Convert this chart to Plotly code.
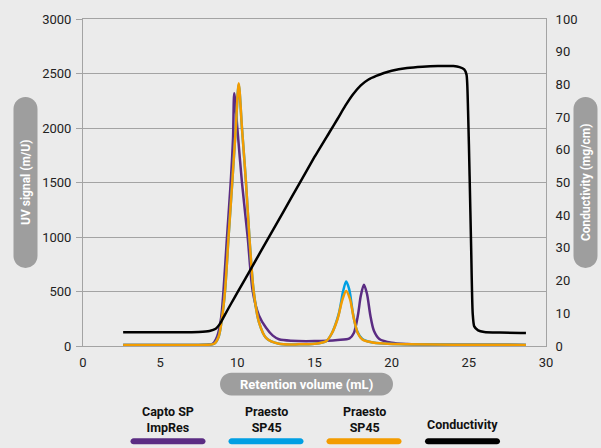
import plotly.graph_objects as go

# ---------------- data ----------------
capto_x = [2.6, 5, 8.0, 8.4, 8.7, 8.95, 9.1, 9.33, 9.57, 9.72, 9.8, 10.0, 10.3, 10.67, 11.0, 11.4, 11.86, 12.3, 12.7, 13.5, 15, 16.5, 17.27, 17.55, 17.81, 18.0, 18.2, 18.4, 18.62, 18.85, 19.2, 20, 21, 23, 28.7]
capto_y = [10, 10, 12, 20, 90, 260, 500, 1000, 1500, 1900, 2318, 2000, 1500, 1000, 500, 280, 167, 95, 62, 48, 45, 55, 70, 120, 280, 460, 562, 480, 280, 140, 65, 30, 18, 12, 10]

blue_x = [2.6, 5, 8.0, 8.5, 8.8, 9.0, 9.2, 9.43, 9.67, 9.9, 10.09, 10.3, 10.56, 10.78, 11.06, 11.4, 11.86, 12.7, 14, 15.0, 15.76, 16.1, 16.58, 16.85, 17.05, 17.25, 17.49, 17.75, 18.1, 18.68, 19.5, 21, 24, 28.7]
blue_y = [10, 10, 12, 20, 90, 250, 500, 1000, 1500, 2000, 2400, 2000, 1500, 1000, 500, 220, 75, 20, 15, 20, 45, 110, 300, 500, 592, 520, 300, 140, 65, 35, 22, 15, 12, 10]

orange_x = [2.6, 5, 8.0, 8.5, 8.8, 9.0, 9.2, 9.43, 9.67, 9.9, 10.09, 10.3, 10.56, 10.78, 11.06, 11.4, 11.86, 12.7, 14, 15.0, 15.76, 16.1, 16.5, 16.8, 17.05, 17.3, 17.55, 17.8, 18.1, 18.68, 19.5, 21, 24, 28.7]
orange_y = [10, 10, 12, 20, 90, 250, 500, 1000, 1500, 2000, 2410, 2000, 1500, 1000, 500, 220, 75, 20, 15, 20, 45, 110, 250, 420, 505, 430, 250, 120, 60, 35, 22, 15, 12, 10]

cond_x = [2.6, 4, 6, 7.5, 8.2, 8.6, 8.9, 9.2, 9.6, 10.0, 11, 12, 13, 14, 15, 16, 16.5, 17.0, 17.5, 18.0, 18.5, 19, 19.5, 20, 21, 22, 23, 24, 24.4, 24.7, 24.85, 24.95, 25.05, 25.15, 25.25, 25.35, 25.6, 26.0, 27, 28.7]
cond_y = [4.2, 4.2, 4.2, 4.3, 4.6, 5.3, 7.0, 9.6, 13.0, 16.3, 24.6, 32.9, 41.2, 49.5, 57.8, 65.6, 69.5, 73.5, 77.0, 79.7, 81.5, 82.6, 83.5, 84.2, 85.0, 85.4, 85.6, 85.6, 85.3, 84.6, 83.0, 72.0, 52.0, 30.0, 10.0, 6.0, 4.8, 4.3, 4.1, 4.0]

x_ticks = [0, 5, 10, 15, 20, 25, 30]
y_ticks = [0, 500, 1000, 1500, 2000, 2500, 3000]
y2_ticks = [0, 10, 20, 30, 40, 50, 60, 70, 80, 90, 100]

series_names = ["Capto SP<br>ImpRes", "Praesto<br>SP45", "Praesto<br>SP45", "Conductivity"]
series_colors = ["#5B2C83", "#009FE3", "#F39C00", "#000000"]

# ---------------- layout helpers ----------------
W, H = 601, 448
L, R, T, B = 83, 55, 15, 102
PW, PH = W - L - R, H - T - B


def pxx(px):
    return (px - L) / PW


def pxy(py):
    return (H - B - py) / PH


def pill_path(x0, y0, x1, y1):
    r = min(x1 - x0, y1 - y0) / 2.0
    k = 0.5523 * r
    pts = [
        ("M", [(x0 + r, y0)]),
        ("L", [(x1 - r, y0)]),
        ("C", [(x1 - r + k, y0), (x1, y0 + r - k), (x1, y0 + r)]),
        ("L", [(x1, y1 - r)]),
        ("C", [(x1, y1 - r + k), (x1 - r + k, y1), (x1 - r, y1)]),
        ("L", [(x0 + r, y1)]),
        ("C", [(x0 + r - k, y1), (x0, y1 - r + k), (x0, y1 - r)]),
        ("L", [(x0, y0 + r)]),
        ("C", [(x0, y0 + r - k), (x0 + r - k, y0), (x0 + r, y0)]),
    ]
    s = ""
    for cmd, ps in pts:
        s += cmd + " " + " ".join(f"{pxx(a):.5f},{pxy(b):.5f}" for a, b in ps) + " "
    return s + "Z"


GRID = "#A3A3A3"
PILL = "#9E9E9E"
FONT = "Roboto"

fig = go.Figure()
fig.add_trace(go.Scatter(x=capto_x, y=capto_y, mode="lines", line=dict(color=series_colors[0], width=2.5, shape="spline", smoothing=0.8), showlegend=False))
fig.add_trace(go.Scatter(x=blue_x, y=blue_y, mode="lines", line=dict(color=series_colors[1], width=2.5, shape="spline", smoothing=0.8), showlegend=False))
fig.add_trace(go.Scatter(x=orange_x, y=orange_y, mode="lines", line=dict(color=series_colors[2], width=2.5, shape="spline", smoothing=0.8), showlegend=False))
fig.add_trace(go.Scatter(x=cond_x, y=cond_y, mode="lines", yaxis="y2", line=dict(color=series_colors[3], width=2.5, shape="spline", smoothing=0.6), showlegend=False))

shapes = []
annotations = []


def label(px, py, text, size, color, angle=0):
    annotations.append(dict(x=pxx(px), y=pxy(py), xref="paper", yref="paper", xanchor="center", yanchor="middle",
                            text=text, textangle=angle, showarrow=False, align="center",
                            font=dict(family=FONT, size=size, color=color)))


# axis-title pills
shapes.append(dict(type="path", xref="paper", yref="paper", path=pill_path(13.5, 94, 37.5, 267), fillcolor=PILL, line=dict(width=0), layer="below"))
label(25.5, 180.5, "<b>UV signal (m/U)</b>", 12, "white", -90)
shapes.append(dict(type="path", xref="paper", yref="paper", path=pill_path(573.5, 94, 597.5, 267), fillcolor=PILL, line=dict(width=0), layer="below"))
label(585.5, 180.5, "<b>Conductivity (mg/cm)</b>", 12, "white", -90)
shapes.append(dict(type="path", xref="paper", yref="paper", path=pill_path(220, 373, 393, 396), fillcolor=PILL, line=dict(width=0), layer="below"))
label(306.5, 384.5, "<b>Retention volume (mL)</b>", 13, "white")

# legend
leg_centers = [168, 266, 364, 462.5]
for name, col, cx in zip(series_names, series_colors, leg_centers):
    shapes.append(dict(type="path", xref="paper", yref="paper", path=pill_path(cx - 37.5, 439.3, cx + 37.5, 445.5), fillcolor=col, line=dict(width=0)))
    cy = 420.5 if "<br>" in name else 425.7
    label(cx, cy, f"<b>{name}</b>", 12.5, "#111111")

fig.update_layout(
    width=W, height=H,
    margin=dict(l=L, r=R, t=T, b=B, pad=0),
    paper_bgcolor="#EBEBEB", plot_bgcolor="#EBEBEB",
    font=dict(family=FONT, size=13, color="#222222"),
    showlegend=False,
    shapes=shapes,
    annotations=annotations,
    xaxis=dict(range=[0, 30], tickvals=x_ticks, showgrid=False, zeroline=False, showline=True, linecolor=GRID, linewidth=1, mirror=True, ticks="", ticklabelstandoff=4, fixedrange=True),
    yaxis=dict(range=[0, 3000], tickvals=y_ticks, showgrid=True, gridcolor=GRID, gridwidth=1, zeroline=False, showline=True, linecolor=GRID, linewidth=1, ticks="outside", ticklen=6, tickcolor=GRID, ticklabelstandoff=2),
    yaxis2=dict(range=[0, 100], tickvals=y2_ticks, overlaying="y", side="right", showgrid=False, zeroline=False, showline=True, linecolor=GRID, linewidth=1, ticks="", ticklabelstandoff=6),
)

fig.write_html("out.html")
